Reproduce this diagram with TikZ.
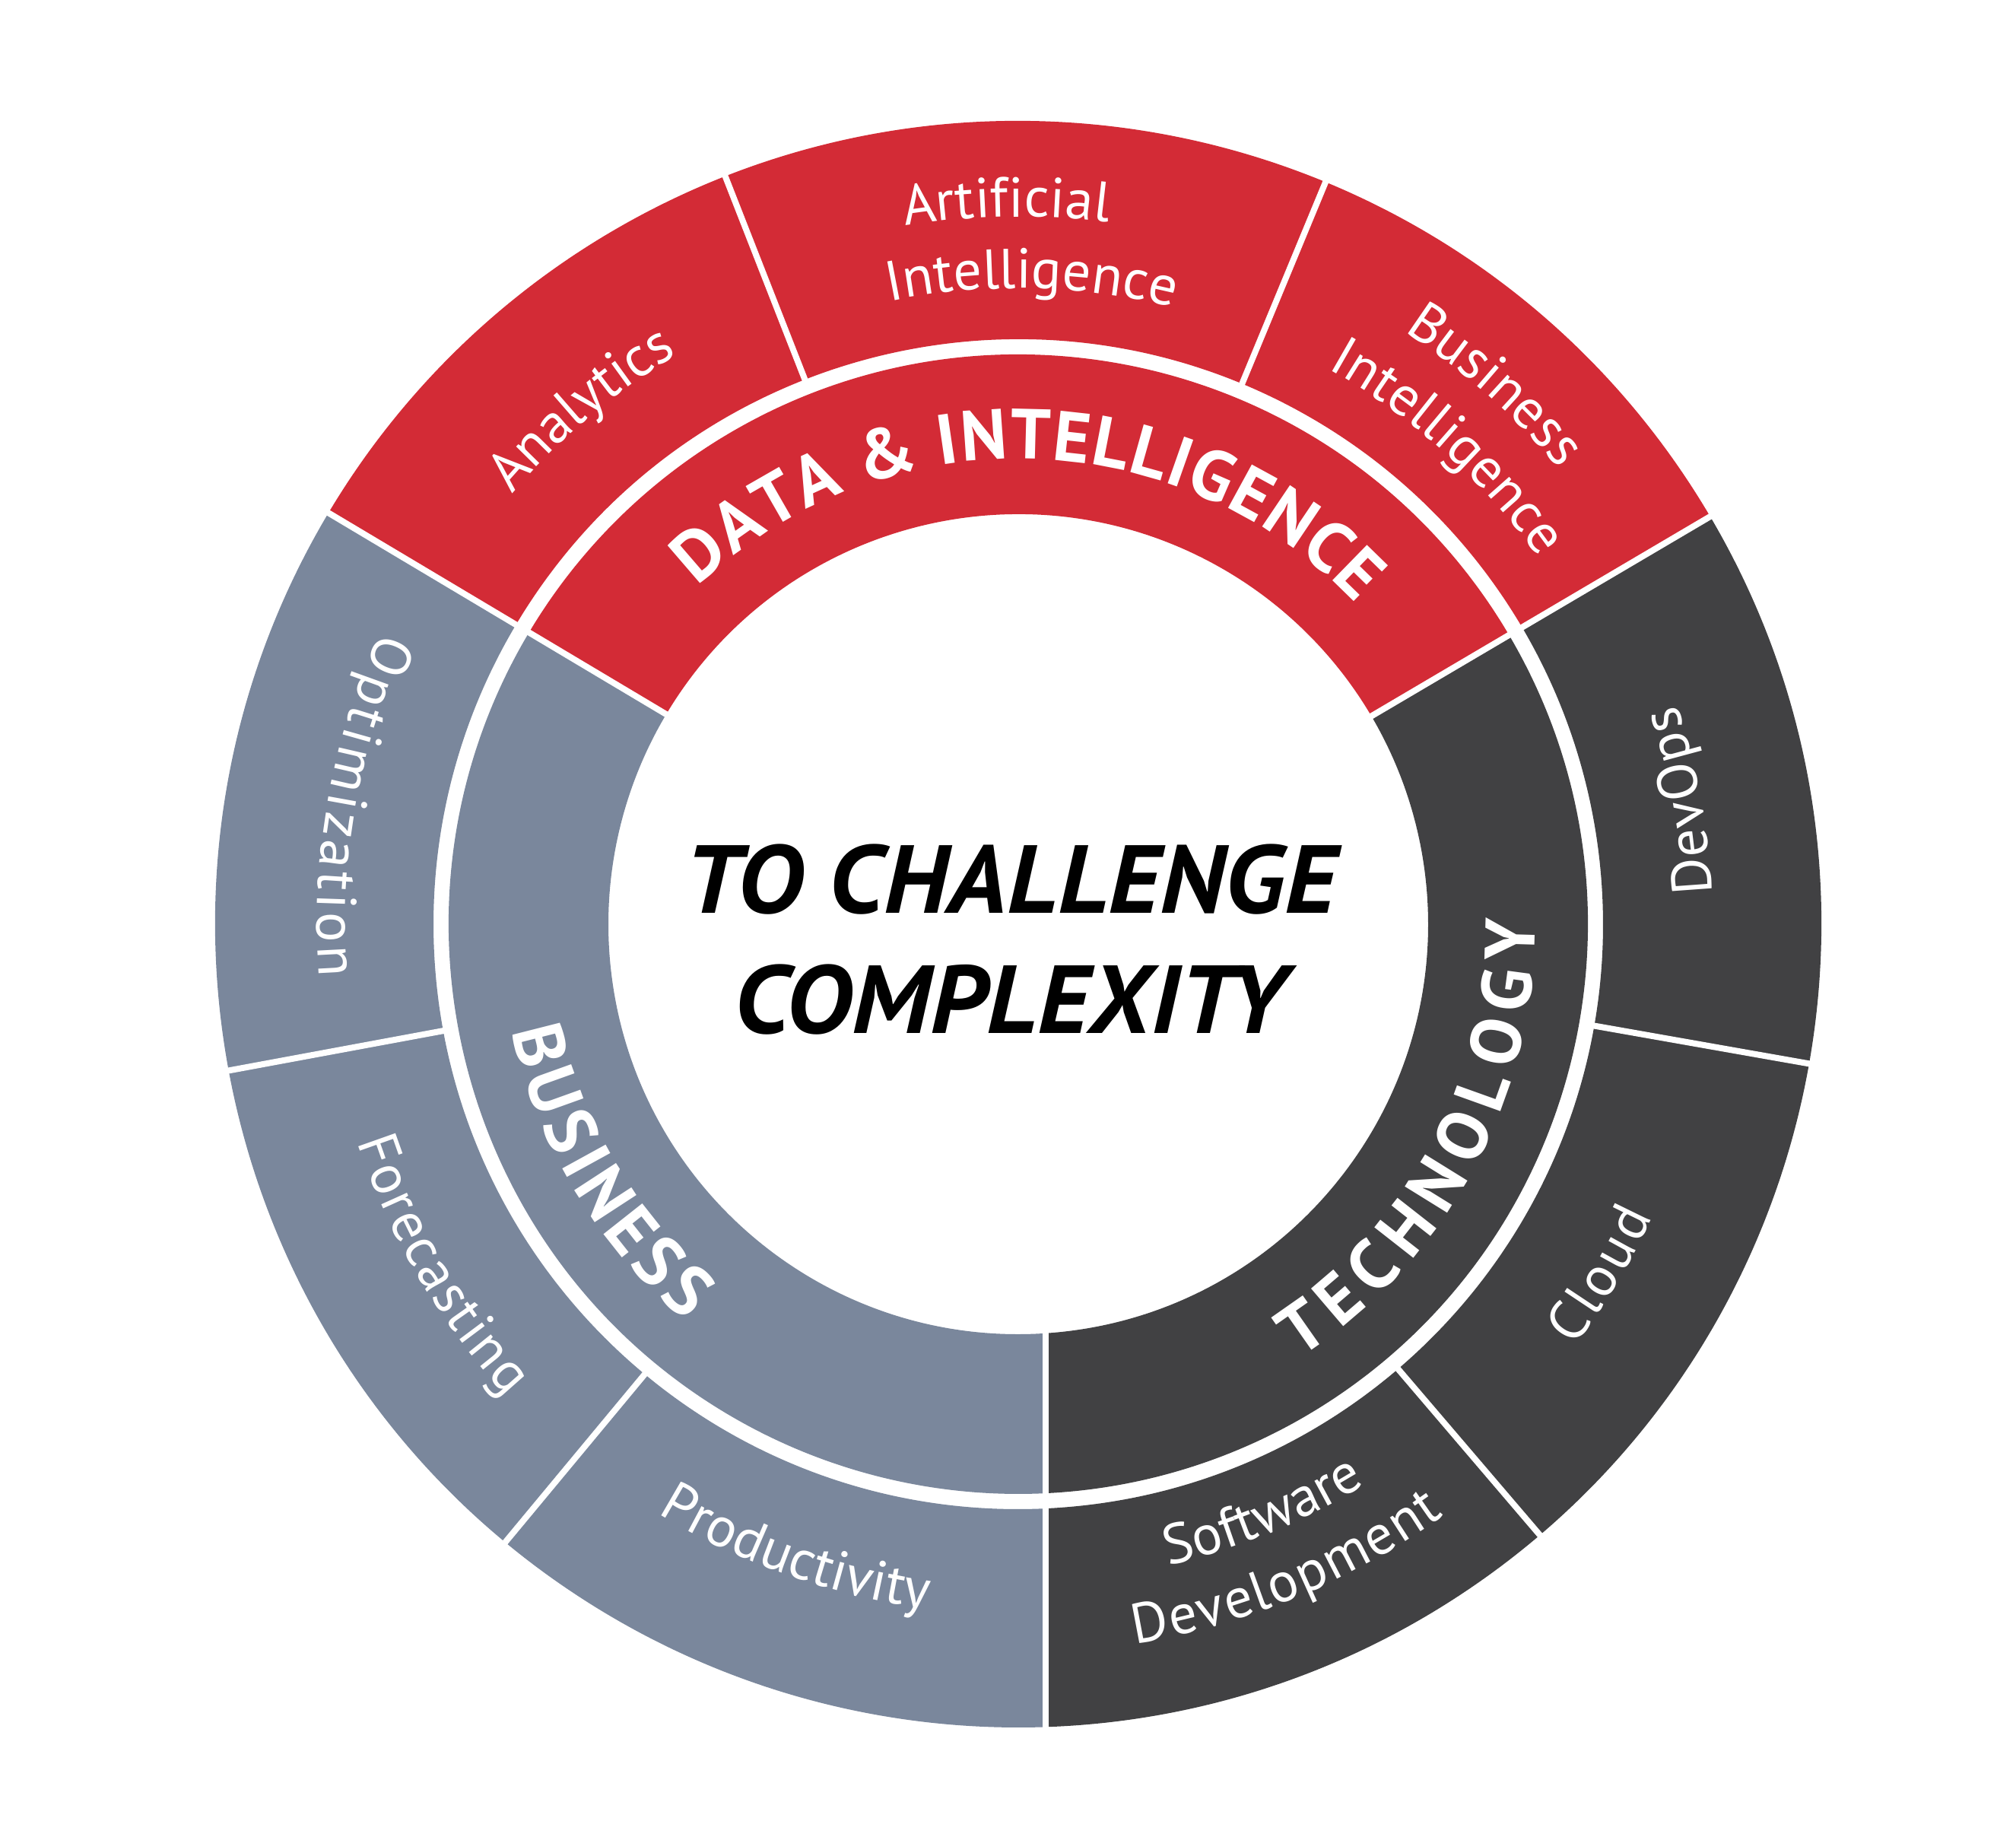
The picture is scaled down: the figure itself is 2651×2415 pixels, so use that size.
\documentclass[tikz,border=0pt]{standalone}
\usepackage{fontspec}
\setmainfont{PT Sans}
\usetikzlibrary{decorations.text}
\definecolor{dired}{HTML}{D32B36}
\definecolor{bizgray}{HTML}{7A879C}
\definecolor{techdark}{HTML}{414143}
\newcommand\lblsize{\fontsize{74}{88}\selectfont}
\newcommand\ringsize{\fontsize{93}{110}\selectfont\bfseries}
\newcommand\techgap{\kern14pt}
\newcommand\bizgap{\kern8pt}
\newcommand\datgap{\kern2pt}
\newcommand\optgap{\kern5pt}
\newcommand\forgap{\kern2.5pt}
\newcommand\cldgap{\kern4pt}
\newcommand\devgap{\kern2pt}
% clockwise label (tops outward): angle, radius, text
\newcommand\cwlabel[3]{%
  \path[decorate,decoration={text along path,text align=center,
    text={|\lblsize\color{white}|#3}}]
    ({#1+90}:#2pt) arc[start angle={#1+90},end angle={#1-90},radius=#2pt];}
% counter-clockwise label (tops inward)
\newcommand\ccwlabel[3]{%
  \path[decorate,decoration={text along path,text align=center,
    text={|\lblsize\color{white}|#3}}]
    ({#1-90}:#2pt) arc[start angle={#1-90},end angle={#1+90},radius=#2pt];}
\tikzset{divider/.style={white,line width=8pt},
  titlefont/.style={font=\fontsize{127}{150}\selectfont\bfseries\itshape,anchor=base,inner sep=0pt}}
\begin{document}
\begin{tikzpicture}
\fill[white] (-1339pt,-1200pt) rectangle (1312pt,1215pt);
\useasboundingbox (-1339pt,-1200pt) rectangle (1312pt,1215pt);
% inner ring
\fill[dired] (30.5:539pt) -- (30.5:749pt) arc[start angle=30.5,end angle=149.2,radius=749pt]
  -- (149.2:539pt) arc[start angle=149.2,end angle=30.5,radius=539pt] -- cycle;
\fill[bizgray] (149.2:539pt) -- (149.2:749pt) arc[start angle=149.2,end angle=272.79,radius=749pt]
  -- (273.88:539pt) arc[start angle=273.88,end angle=149.2,radius=539pt] -- cycle;
\fill[techdark] (30.5:539pt) -- (30.5:749pt) arc[start angle=30.5,end angle=-87.21,radius=749pt]
  -- (-86.12:539pt) arc[start angle=-86.12,end angle=30.5,radius=539pt] -- cycle;
% outer ring
\fill[dired] (30.5:769pt) -- (30.5:1056pt) arc[start angle=30.5,end angle=149.2,radius=1056pt]
  -- (149.2:769pt) arc[start angle=149.2,end angle=30.5,radius=769pt] -- cycle;
\fill[bizgray] (149.2:769pt) -- (149.2:1056pt) arc[start angle=149.2,end angle=271.98,radius=1056pt]
  -- (272.72:769pt) arc[start angle=272.72,end angle=149.2,radius=769pt] -- cycle;
\fill[techdark] (30.5:769pt) -- (30.5:1056pt) arc[start angle=30.5,end angle=-88.02,radius=1056pt]
  -- (-87.28:769pt) arc[start angle=-87.28,end angle=30.5,radius=769pt] -- cycle;
% dividers
\draw[divider] (30.5:530pt) -- (30.5:1066pt);
\draw[divider] (149.2:530pt) -- (149.2:1066pt);
\draw[divider] (36.5pt,-530pt) -- (36.5pt,-1066pt);
\draw[divider] (111.4:760pt) -- (111.4:1066pt);
\draw[divider] (67.5:760pt) -- (67.5:1066pt);
\draw[divider] (-10:760pt) -- (-10:1066pt);
\draw[divider] (-49.5:760pt) -- (-49.5:1066pt);
\draw[divider] (230.3:760pt) -- (230.3:1066pt);
\draw[divider] (190.5:760pt) -- (190.5:1066pt);
% inner ring titles
\path[decorate,decoration={text along path,text align=center,
  text={|\ringsize\color{white}|D{\datgap}A{\datgap}T{\datgap}A{\datgap} {\datgap}{\&}{\datgap} {\datgap}I{\datgap}N{\datgap}T{\datgap}E{\datgap}L{\datgap}L{\datgap}I{\datgap}G{\datgap}E{\datgap}N{\datgap}C{\datgap}E}}]
  (178.5:612pt) arc[start angle=178.5,end angle=-1.5,radius=612pt];
\path[decorate,decoration={text along path,text align=center,
  text={|\ringsize\color{white}|B{\bizgap}U{\bizgap}S{\bizgap}I{\bizgap}N{\bizgap}E{\bizgap}S{\bizgap}S}}]
  (121:680pt) arc[start angle=121,end angle=301,radius=680pt];
\path[decorate,decoration={text along path,text align=center,
  text={|\ringsize\color{white}|T{\techgap}E{\techgap}C{\techgap}H{\techgap}N{\techgap}O{\techgap}L{\techgap}O{\techgap}G{\techgap}Y}}]
  (-118.3:680pt) arc[start angle=-118.3,end angle=61.7,radius=680pt];
% outer labels
\cwlabel{130.3}{873}{Analytics}
\cwlabel{90.95}{930}{Artificial}
\cwlabel{88.8}{836}{Intelligence}
\cwlabel{48.5}{930}{Business}
\cwlabel{48}{836}{Intelligence}
\ccwlabel{10.5}{913}{D{\devgap}e{\devgap}v{\devgap}O{\devgap}p{\devgap}s}
\ccwlabel{-31}{918}{C{\cldgap}l{\cldgap}o{\cldgap}u{\cldgap}d}
\ccwlabel{-67.5}{866}{Software}
\ccwlabel{-67.5}{958}{D{\devgap}e{\devgap}v{\devgap}e{\devgap}l{\devgap}o{\devgap}p{\devgap}m{\devgap}e{\devgap}n{\devgap}t}
\ccwlabel{-109.5}{908}{Productivity}
\ccwlabel{210.5}{915}{F{\forgap}o{\forgap}r{\forgap}e{\forgap}c{\forgap}a{\forgap}s{\forgap}t{\forgap}i{\forgap}n{\forgap}g}
\ccwlabel{169.85}{922}{O{\optgap}p{\optgap}t{\optgap}i{\optgap}m{\optgap}i{\optgap}z{\optgap}a{\optgap}t{\optgap}i{\optgap}o{\optgap}n}
% centre
\node[titlefont] (title1) at (-10pt,15pt) {\scalebox{1.06}[1]{TO CHALLENGE}};
\node[titlefont] (title2) at (-10pt,-143pt) {\scalebox{1.06}[1]{COMPLEXITY}};
\end{tikzpicture}
\end{document}
